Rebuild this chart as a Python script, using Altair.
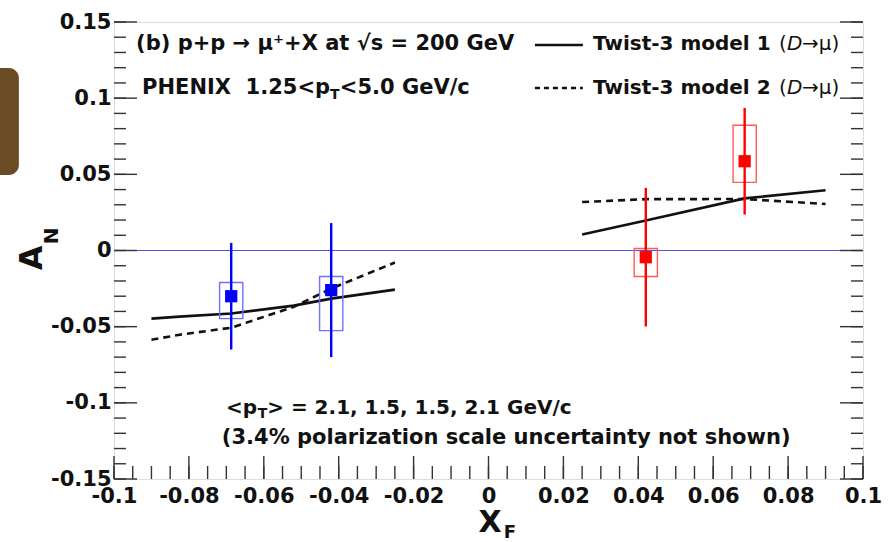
import altair as alt
import numpy as np
import pandas as pd

# ---- measured single-muon asymmetry A_N vs x_F ----
xf = [-0.0687, -0.0420, 0.0420, 0.0684]
an = [-0.0300, -0.0260, -0.0044, 0.0586]
stat_err = [0.0350, 0.0440, 0.0455, 0.0350]
sys_lo = [-0.0447, -0.0526, -0.0171, 0.0447]
sys_hi = [-0.0210, -0.0171, 0.0013, 0.0822]
arm = ["backward", "backward", "forward", "forward"]

# ---- twist-3 model curves (D -> mu) ----
m1_back_x = [-0.0900, -0.0825, -0.0687, -0.0520, -0.0420, -0.0250]
m1_back_y = [-0.0447, -0.0434, -0.0414, -0.0362, -0.0316, -0.0257]
m2_back_x = [-0.0900, -0.0825, -0.0687, -0.0520, -0.0420, -0.0250]
m2_back_y = [-0.0586, -0.0553, -0.0507, -0.0370, -0.0250, -0.0079]
m1_fwd_x = [0.0250, 0.0420, 0.0684, 0.0900]
m1_fwd_y = [0.0105, 0.0197, 0.0342, 0.0395]
m2_fwd_x = [0.0250, 0.0420, 0.0684, 0.0900]
m2_fwd_y = [0.0318, 0.0337, 0.0338, 0.0305]

# ---- axis ticks ----
x_major = [round(v, 3) for v in np.arange(-0.1, 0.1001, 0.02)]
x_minor = [round(v, 4) for v in np.arange(-0.1, 0.1001, 0.005)]
y_major = [round(v, 3) for v in np.arange(-0.15, 0.1501, 0.05)]
y_minor = [round(v, 3) for v in np.arange(-0.15, 0.1501, 0.01)]

W, H = 749, 457
XDOM, YDOM = [-0.1, 0.1], [-0.15, 0.15]
BOX_HALF = 0.0031
FONT = "DejaVu Sans"
FRAME = "#333333"
NB = "\u00a0"

xs = alt.Scale(domain=XDOM, nice=False, zero=False)
ys = alt.Scale(domain=YDOM, nice=False, zero=False)
arm_col = alt.Scale(domain=["backward", "forward"], range=["#0000ff", "#ff0000"])
box_col = alt.Scale(domain=["backward", "forward"], range=["#6f6fff", "#ff5a5a"])

# label-only axes; tick marks are drawn inward as rules further down
x_axis = alt.Axis(
    values=x_major, labelExpr="'' + datum.value", ticks=False, domain=False, grid=False,
    labelFont=FONT, labelFontWeight="bold", labelFontSize=21, labelColor="#111",
    labelPadding=6, labelFlush=False, labelOverlap=False, title=None)
y_axis = alt.Axis(
    values=y_major, labelExpr="'' + datum.value", ticks=False, domain=False, grid=False,
    labelFont=FONT, labelFontWeight="bold", labelFontSize=21, labelColor="#111",
    labelPadding=3, labelFlush=False, labelOverlap=False, title=None)

pts = pd.DataFrame({
    "xf": xf, "an": an, "arm": arm,
    "lo": [a - e for a, e in zip(an, stat_err)],
    "hi": [a + e for a, e in zip(an, stat_err)],
    "slo": sys_lo, "shi": sys_hi,
    "bx1": [x - BOX_HALF for x in xf],
    "bx2": [x + BOX_HALF for x in xf],
})

def curve(xv, yv, model, part):
    return pd.DataFrame({"x": xv, "y": yv, "model": model, "part": part})

curves = pd.concat([
    curve(m1_back_x, m1_back_y, "m1", "back"),
    curve(m1_fwd_x, m1_fwd_y, "m1", "fwd"),
    curve(m2_back_x, m2_back_y, "m2", "back"),
    curve(m2_fwd_x, m2_fwd_y, "m2", "fwd"),
])

X = lambda f="x": alt.X(f"{f}:Q", scale=xs, axis=x_axis)
Y = lambda f="y": alt.Y(f"{f}:Q", scale=ys, axis=y_axis)

def xticks(vals, length):
    return alt.Chart(pd.DataFrame({"x": vals})).mark_rule(color=FRAME, strokeWidth=1.4).encode(
        x=X(), y=alt.value(H), y2=alt.value(H - length))

def yticks(vals, length, right=False):
    x0 = W if right else 0
    x1 = W - length if right else length
    return alt.Chart(pd.DataFrame({"y": vals})).mark_rule(color=FRAME, strokeWidth=1.4).encode(
        y=Y(), x=alt.value(x0), x2=alt.value(x1))

ticks = [
    xticks(x_minor, 13), xticks(x_major, 23),
    yticks(y_minor, 12), yticks(y_major, 23),
    yticks(y_minor, 12, True), yticks(y_major, 23, True),
]

zero_line = alt.Chart(pd.DataFrame({"y": [0.0]})).mark_rule(color="#4f4fe0", strokeWidth=1.2).encode(
    y=Y(), x=alt.value(0), x2=alt.value(W))

model1 = alt.Chart(curves[curves.model == "m1"]).mark_line(color="#111", strokeWidth=2.6).encode(
    x=X(), y=Y(), detail="part:N", order="x:Q")
model2 = alt.Chart(curves[curves.model == "m2"]).mark_line(
    color="#111", strokeWidth=2.6, strokeDash=[7, 5]).encode(
    x=X(), y=Y(), detail="part:N", order="x:Q")

sys_boxes = alt.Chart(pts).mark_rect(fillOpacity=0, strokeWidth=1.4).encode(
    x=X("bx1"), x2="bx2", y=Y("slo"), y2="shi",
    stroke=alt.Stroke("arm:N", scale=box_col, legend=None))
err_bars = alt.Chart(pts).mark_rule(strokeWidth=2.4).encode(
    x=X("xf"), y=Y("lo"), y2="hi",
    color=alt.Color("arm:N", scale=arm_col, legend=None))
markers = alt.Chart(pts).mark_square(size=150, opacity=1).encode(
    x=X("xf"), y=Y("an"),
    color=alt.Color("arm:N", scale=arm_col, legend=None))

# legend samples
leg = pd.DataFrame({"x": [0.0124, 0.0252, 0.0124, 0.0252], "y": [0.1349, 0.1349, 0.1067, 0.1067],
                    "model": ["m1", "m1", "m2", "m2"]})
leg1 = alt.Chart(leg[leg.model == "m1"]).mark_line(color="#111", strokeWidth=2.6).encode(x=X(), y=Y())
leg2 = alt.Chart(leg[leg.model == "m2"]).mark_line(color="#111", strokeWidth=2.4, strokeDash=[5, 4]).encode(x=X(), y=Y())

def txt(x, y, s, size=21, weight="bold", style="normal", align="left", angle=0, color="#111"):
    return alt.Chart(pd.DataFrame({"x": [x], "y": [y], "t": [s]})).mark_text(
        font=FONT, fontSize=size, fontWeight=weight, fontStyle=style, align=align,
        baseline="middle", angle=angle, color=color).encode(x=X(), y=Y(), text="t:N")

texts = [
    txt(-0.0941, 0.1356, "(b) p+p \u2192 \u03bc\u207a+X at \u221as = 200 GeV"),
    txt(-0.0925, 0.1067, "PHENIX " + NB + "1.25<p"),
    txt(-0.0423, 0.1023, "T", size=14),
    txt(-0.0397, 0.1067, "<5.0 GeV/c"),
    txt(0.0279, 0.1356, "Twist-3 model 1", size=20),
    txt(0.0776, 0.1356, "(", size=20, weight="normal"),
    txt(0.0797, 0.1356, "D", size=20, weight="normal", style="italic"),
    txt(0.0837, 0.1356, "\u2192\u03bc)", size=20, weight="normal"),
    txt(0.0279, 0.1067, "Twist-3 model 2", size=20),
    txt(0.0776, 0.1067, "(", size=20, weight="normal"),
    txt(0.0797, 0.1067, "D", size=20, weight="normal", style="italic"),
    txt(0.0837, 0.1067, "\u2192\u03bc)", size=20, weight="normal"),
    txt(-0.0701, -0.1034, "<p", size=20),
    txt(-0.0616, -0.1075, "T", size=14),
    txt(-0.0591, -0.1034, "> = 2.1, 1.5, 1.5, 2.1 GeV/c", size=20),
    txt(-0.0712, -0.1231, "(3.4% polarization scale uncertainty not shown)"),
    # axis titles
    txt(-0.1219, -0.0049, "A", size=32, align="center", angle=270),
    txt(-0.1166, 0.0096, "N", size=20, align="center", angle=270),
    txt(0.0004, -0.1788, "X", size=30, align="center"),
    txt(0.0057, -0.1852, "F", size=18, align="center"),
]

badge = alt.Chart(pd.DataFrame({"x": [-0.136], "x2": [-0.1254], "y": [0.1198], "y2": [0.0496]})).mark_rect(
    color="#6a4b24", cornerRadius=10).encode(x=X(), x2="x2", y=Y(), y2="y2")

chart = alt.layer(
    badge, zero_line, *ticks, model1, model2, sys_boxes, err_bars, markers,
    leg1, leg2, *texts
).properties(
    width=W, height=H,
    autosize=alt.AutoSizeParams(type="none"),
    padding={"left": 114, "top": 22, "right": 31, "bottom": 63},
).configure_view(stroke=FRAME, strokeWidth=2).configure(background="white")

chart.save("out.html", embed_options={"renderer": "svg", "actions": False})
